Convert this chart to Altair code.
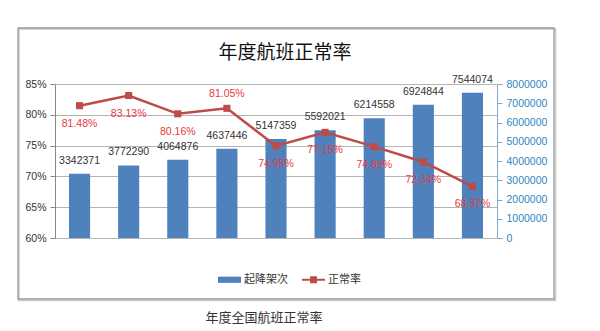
import altair as alt
import pandas as pd

years = ["2006", "2007", "2008", "2009", "2010", "2011", "2012", "2013", "2014"]
flights = [3342371, 3772290, 4064876, 4637446, 5147359, 5592021, 6214558, 6924844, 7544074]
rates = [81.48, 83.13, 80.16, 81.05, 74.95, 77.15, 74.83, 72.34, 68.37]
series_names = ["起降架次", "正常率"]
left_ticks = [0.60, 0.65, 0.70, 0.75, 0.80, 0.85]
right_ticks = [0, 1000000, 2000000, 3000000, 4000000, 5000000, 6000000, 7000000, 8000000]
title_text = "年度航班正常率"
caption_text = "年度全国航班正常率"

df = pd.DataFrame({"year": years, "flights": flights, "rate": [r / 100 for r in rates]})

CJK = "Noto Sans CJK SC"
NUM = "Liberation Sans"
BAR_C = "#4F81BD"
LINE_C = "#BE4B48"
PCT_C = "#E8393A"
RAXIS_C = "#2F86C2"
TXT_C = "#333333"

bar_path = "M-1,-0.27H1V0.27H-1Z"
line_path = "M-1,-0.08H-0.3V-0.3H0.3V-0.08H1V0.08H0.3V0.3H-0.3V0.08H-1Z"

color_scale = alt.Scale(domain=series_names, range=[BAR_C, LINE_C])
shape_scale = alt.Scale(domain=series_names, range=[bar_path, line_path])

band = alt.Scale(paddingInner=0.57, paddingOuter=0.285)
x_enc = alt.X(
    "year:N",
    scale=band,
    axis=alt.Axis(
        title=None, labelAngle=0, tickBand="extent", tickSize=5, tickColor="#888",
        domainColor="#888", labelFont=NUM, labelFontSize=10.5, labelColor=TXT_C,
        labelPadding=5, grid=False,
    ),
)
x_plain = alt.X("year:N", scale=band, axis=None)

y_right = alt.Scale(domain=[0, 8000000], nice=False)
y_left = alt.Scale(domain=[0.6, 0.85], nice=False)

base = alt.Chart(df)

legend = alt.Legend(
    title=None, orient="none", legendX=163, legendY=184, direction="horizontal",
    symbolSize=529, symbolStrokeWidth=0, symbolOpacity=1, labelFont=CJK, labelFontSize=11,
    labelColor=TXT_C, columnPadding=14, labelOffset=3,
)

bars = base.mark_bar(color=BAR_C).encode(
    x=x_enc,
    y=alt.Y(
        "flights:Q", scale=y_right,
        axis=alt.Axis(
            orient="right", title=None, values=right_ticks, format="d", grid=False,
            tickSize=5, tickColor="#7FA7CF", domainColor="#7FA7CF",
            labelColor=RAXIS_C, labelFont=NUM, labelFontSize=10.5, labelPadding=4,
        ),
    ),
)

bar_labels = base.mark_text(font=NUM, fontSize=10.5, color=TXT_C, baseline="middle", dy=-13).encode(
    x=x_plain,
    y=alt.Y("flights:Q", scale=y_right, axis=None),
    text=alt.Text("flights:Q", format="d"),
)

line = base.mark_line(color=LINE_C, strokeWidth=2.5).encode(
    x=x_plain,
    y=alt.Y(
        "rate:Q", scale=y_left,
        axis=alt.Axis(
            orient="left", title=None, values=left_ticks, format=".0%", grid=True,
            gridColor="#b4b4b4", tickSize=5, tickColor="#888", domainColor="#888",
            labelColor=TXT_C, labelFont=NUM, labelFontSize=10.5, labelPadding=4,
        ),
    ),
)

points = base.mark_square(filled=True, size=50, opacity=1, color=LINE_C).encode(
    x=x_plain,
    y=alt.Y("rate:Q", scale=y_left, axis=None),
)

pct_below = base.mark_text(font=NUM, fontSize=10.5, color=PCT_C, baseline="middle", dy=18).transform_filter(
    "datum.year != '2009'"
).encode(
    x=x_plain,
    y=alt.Y("rate:Q", scale=y_left, axis=None),
    text=alt.Text("rate:Q", format=".2%"),
)
pct_above = base.mark_text(font=NUM, fontSize=10.5, color=PCT_C, baseline="middle", dy=-14).transform_filter(
    "datum.year == '2009'"
).encode(
    x=x_plain,
    y=alt.Y("rate:Q", scale=y_left, axis=None),
    text=alt.Text("rate:Q", format=".2%"),
)

# invisible carriers for the combined legend (bar swatch + line-with-marker)
legend_line = base.mark_point(filled=True, opacity=0).transform_calculate(series="'正常率'").encode(
    x=x_plain,
    y=alt.Y("rate:Q", scale=y_left, axis=None),
    color=alt.Color("series:N", scale=color_scale, legend=legend),
    shape=alt.Shape("series:N", scale=shape_scale, legend=legend),
)
legend_bar = base.mark_point(filled=True, opacity=0).transform_calculate(series="'起降架次'").encode(
    x=x_plain,
    y=alt.Y("flights:Q", scale=y_right, axis=None),
    color=alt.Color("series:N", scale=color_scale, legend=legend),
    shape=alt.Shape("series:N", scale=shape_scale, legend=legend),
)

dummy = alt.Chart(pd.DataFrame({"t": [title_text], "c": [caption_text]}))
border_shadow = dummy.mark_rect(fill=None, stroke="#c8c8c8", strokeWidth=1.5).encode(
    x=alt.value(-36), x2=alt.value(500.5), y=alt.value(-55), y2=alt.value(216.5)
)
border = dummy.mark_rect(fill=None, stroke="#9a9a9a", strokeWidth=1.3).encode(
    x=alt.value(-37), x2=alt.value(499), y=alt.value(-56), y2=alt.value(215)
)
title = dummy.mark_text(font=CJK, fontSize=19, color="#111", align="center", baseline="middle").encode(
    x=alt.value(230), y=alt.value(-31), text="t:N"
)
caption = dummy.mark_text(font=CJK, fontSize=13, color="#333", align="center", baseline="middle").encode(
    x=alt.value(209), y=alt.value(234), text="c:N"
)

chart = alt.layer(
    border_shadow, border, bars, line, bar_labels, points, pct_below, pct_above,
    legend_bar, legend_line, title, caption,
).resolve_scale(y="independent").properties(
    width=442, height=154,
    autosize=alt.AutoSizeParams(type="none"),
    padding={"left": 55, "top": 84, "right": 103, "bottom": 93},
    background="white",
).configure_view(stroke=None)

chart.save("out.html", embed_options={"renderer": "svg", "actions": False})
